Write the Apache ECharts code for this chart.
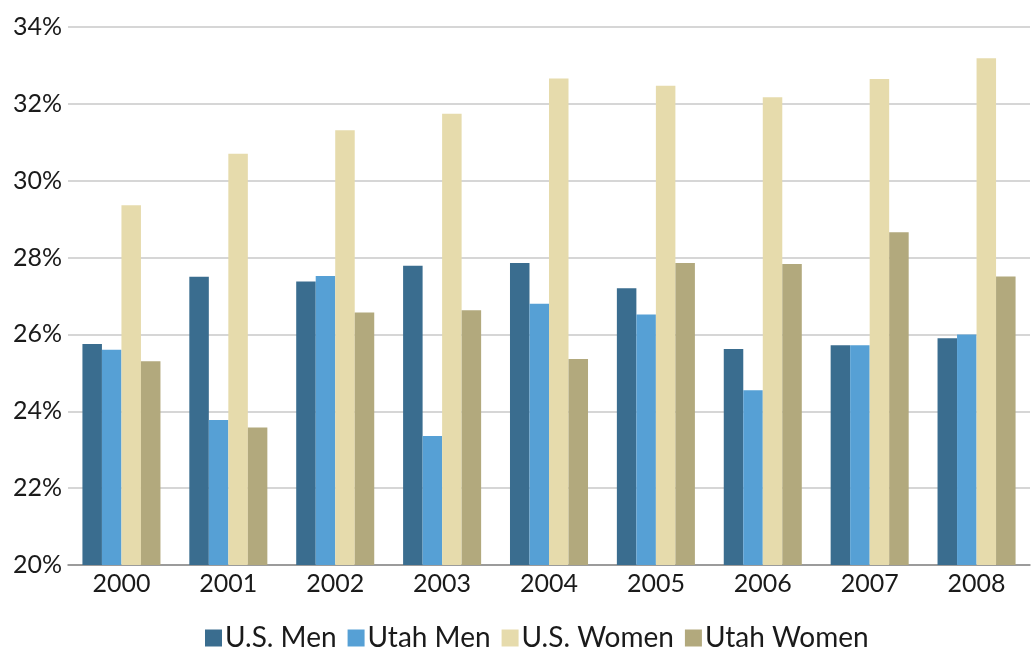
<!DOCTYPE html>
<html>
<head>
<meta charset="utf-8">
<script src="https://cdn.jsdelivr.net/npm/echarts@6/dist/echarts.min.js"></script>
<style>
html, body { margin:0; padding:0; background:#fff; }
#chart { width:1032px; height:652px; }
</style>
</head>
<body>
<div id="chart"></div>
<script>
var years = ['2000','2001','2002','2003','2004','2005','2006','2007','2008'];
var usMen = [25.75, 27.5, 27.38, 27.79, 27.86, 27.2, 25.62, 25.72, 25.9];
var utahMen = [25.6, 23.77, 27.52, 23.36, 26.8, 26.52, 24.55, 25.72, 26.0];
var usWomen = [29.36, 30.7, 31.31, 31.74, 32.66, 32.47, 32.17, 32.65, 33.19];
var utahWomen = [25.3, 23.58, 26.57, 26.63, 25.36, 27.86, 27.83, 28.66, 27.51];

var chart = echarts.init(document.getElementById('chart'));
var font = 'Lato, "Open Sans", sans-serif';
function bar(name, data, color) {
    return {
        name: name,
        type: 'bar',
        data: data,
        barGap: '0%',
        barCategoryGap: '27%',
        itemStyle: { color: color }
    };
}
chart.setOption({
    animation: false,
    textStyle: { fontFamily: font },
    grid: { left: 68, right: 2, top: 27, bottom: 87 },
    legend: {
        bottom: 0,
        left: 205,
        padding: 0,
        itemWidth: 17,
        itemHeight: 17,
        itemGap: 11,
        icon: 'rect',
        textStyle: { fontSize: 28, color: '#1a1a1a', fontFamily: font, padding: [0, 0, 0, -2] },
        data: ['U.S. Men', 'Utah Men', 'U.S. Women', 'Utah Women']
    },
    xAxis: {
        type: 'category',
        data: years,
        axisTick: { show: false },
        axisLine: { lineStyle: { color: '#888', width: 1.5 } },
        axisLabel: { fontSize: 25, color: '#1a1a1a', margin: 6 }
    },
    yAxis: {
        type: 'value',
        min: 20,
        max: 34,
        interval: 2,
        axisLabel: { fontSize: 25, color: '#1a1a1a', margin: 6, formatter: '{value}%' },
        axisLine: { show: false },
        axisTick: { show: false },
        splitLine: { lineStyle: { color: '#c8c8c8', width: 1.5 } }
    },
    series: [
        bar('U.S. Men', usMen, '#3a6d8f'),
        bar('Utah Men', utahMen, '#56a0d5'),
        bar('U.S. Women', usWomen, '#e6dbac'),
        bar('Utah Women', utahWomen, '#b2a97d')
    ]
});
</script>
</body>
</html>
